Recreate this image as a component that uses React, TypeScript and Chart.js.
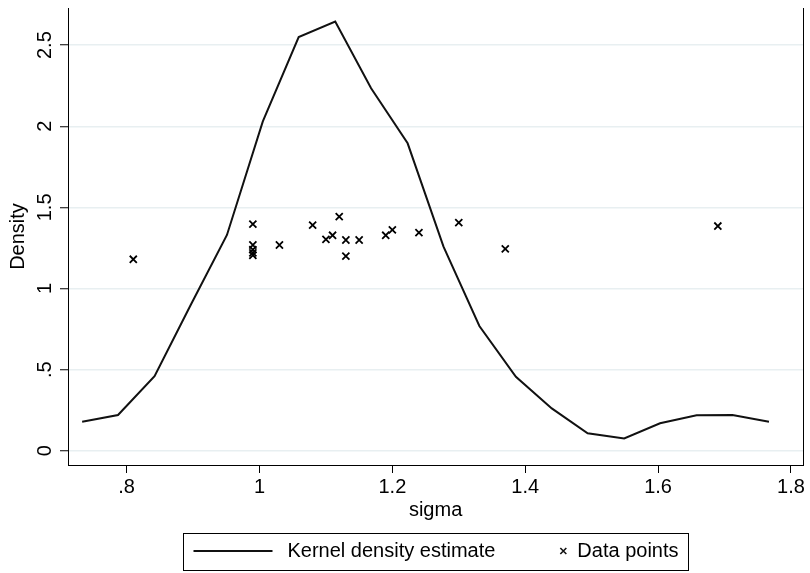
import React, { useEffect, useRef } from 'react';
import { Chart, registerables } from 'chart.js';

Chart.register(...registerables);

// Kernel density estimate (evaluation grid and density)
const kdeX = [0.733, 0.787, 0.842, 0.896, 0.951, 1.005, 1.059, 1.114, 1.168, 1.223, 1.277, 1.331, 1.386, 1.44, 1.494, 1.549, 1.603, 1.658, 1.712, 1.767];
const kdeY = [0.179, 0.22, 0.46, 0.895, 1.33, 2.03, 2.55, 2.645, 2.234, 1.895, 1.258, 0.769, 0.456, 0.261, 0.107, 0.076, 0.169, 0.218, 0.22, 0.179];

// Data points (sigma, jittered height)
const pointX = [0.81, 0.99, 0.99, 0.99, 0.99, 0.99, 1.03, 1.08, 1.1, 1.11, 1.12, 1.13, 1.13, 1.15, 1.19, 1.2, 1.24, 1.3, 1.37, 1.69];
const pointY = [1.18, 1.397, 1.268, 1.24, 1.22, 1.205, 1.268, 1.391, 1.303, 1.328, 1.443, 1.299, 1.2, 1.299, 1.328, 1.361, 1.344, 1.406, 1.244, 1.385];

const xTicks = [0.8, 1, 1.2, 1.4, 1.6, 1.8];
const yTicks = [0, 0.5, 1, 1.5, 2, 2.5];
const xRange = [0.7117, 1.8185];
const yRange = [-0.088, 2.729];

const xTitle = 'sigma';
const yTitle = 'Density';
const seriesNames = ['Kernel density estimate', 'Data points'];

const FONT_FAMILY = '"Liberation Sans", Arial, Helvetica, sans-serif';
const FONT_SIZE = 20;

const fmt = (v: number) => {
  const s = String(Math.round(v * 100) / 100);
  return s.startsWith('0.') ? s.slice(1) : s;
};

const boxLegend = {
  id: 'boxLegend',
  afterDraw(chart: any) {
    const ctx = chart.ctx as CanvasRenderingContext2D;
    const area = chart.chartArea;
    ctx.save();
    ctx.font = `${FONT_SIZE}px ${FONT_FAMILY}`;
    const boxW = 505;
    const cx = (area.left + area.right) / 2;
    const left = Math.round(cx - boxW / 2) + 0.5;
    const right = left + boxW;
    const top = 533.5;
    const midY = 551;
    ctx.strokeStyle = '#000';
    ctx.lineWidth = 1;
    ctx.strokeRect(left, top, boxW, 37);
    // line sample
    const lineStart = left + 10;
    const lineEnd = lineStart + 79;
    ctx.lineWidth = 2;
    ctx.strokeStyle = '#111';
    ctx.beginPath();
    ctx.moveTo(lineStart, midY);
    ctx.lineTo(lineEnd, midY);
    ctx.stroke();
    ctx.fillStyle = '#000';
    ctx.textBaseline = 'middle';
    ctx.textAlign = 'left';
    ctx.fillText(seriesNames[0], lineEnd + 15, midY);
    // second item: right aligned
    const w2 = ctx.measureText(seriesNames[1]).width;
    const t2x = right - 10 - w2;
    ctx.fillText(seriesNames[1], t2x, midY);
    const mx = t2x - 14;
    const r = 3;
    ctx.lineWidth = 1.6;
    ctx.beginPath();
    ctx.moveTo(mx - r, midY - r);
    ctx.lineTo(mx + r, midY + r);
    ctx.moveTo(mx + r, midY - r);
    ctx.lineTo(mx - r, midY + r);
    ctx.stroke();
    ctx.restore();
  },
};

export default function App() {
  const ref = useRef<HTMLCanvasElement | null>(null);

  useEffect(() => {
    if (!ref.current) return;
    const font = { family: FONT_FAMILY, size: FONT_SIZE };
    const chart = new Chart(ref.current, {
      type: 'scatter',
      data: {
        datasets: [
          {
            type: 'line',
            label: seriesNames[0],
            data: kdeX.map((x, i) => ({ x, y: kdeY[i] })),
            borderColor: '#111',
            borderWidth: 2,
            pointRadius: 0,
            tension: 0,
            fill: false,
          },
          {
            type: 'scatter',
            label: seriesNames[1],
            data: pointX.map((x, i) => ({ x, y: pointY[i] })),
            pointStyle: 'crossRot',
            pointRadius: 5,
            borderColor: '#000',
            borderWidth: 1.8,
            backgroundColor: '#000',
          },
        ],
      },
      options: {
        responsive: false,
        animation: false,
        events: [],
        layout: { padding: { left: 0, right: 5, top: 8, bottom: 45 } },
        plugins: {
          legend: { display: false },
          tooltip: { enabled: false },
        },
        scales: {
          x: {
            type: 'linear',
            position: 'bottom',
            min: xRange[0],
            max: xRange[1],
            afterBuildTicks: (s: any) => {
              s.ticks = xTicks.map((v) => ({ value: v }));
            },
            afterFit: (s: any) => {
              s.height = 63;
              s.paddingLeft = 0;
              s.paddingRight = 0;
            },
            ticks: {
              callback: (v: any) => fmt(Number(v)),
              font,
              color: '#000',
              padding: 2,
              maxRotation: 0,
              autoSkip: false,
            },
            grid: {
              drawOnChartArea: false,
              drawTicks: true,
              tickLength: 8,
              tickColor: '#000',
              tickWidth: 1,
            },
            border: { display: true, color: '#000', width: 1 },
            title: {
              display: true,
              text: xTitle,
              font,
              color: '#000',
              padding: { top: 0, bottom: 6 },
            },
          },
          y: {
            type: 'linear',
            position: 'left',
            min: yRange[0],
            max: yRange[1],
            afterBuildTicks: (s: any) => {
              s.ticks = yTicks.map((v) => ({ value: v }));
            },
            afterFit: (s: any) => {
              s.width = 68;
              s.paddingTop = 0;
              s.paddingBottom = 0;
            },
            ticks: {
              callback: (v: any) => fmt(Number(v)),
              font,
              color: '#000',
              padding: 1,
              minRotation: 90,
              maxRotation: 90,
              crossAlign: 'center',
              autoSkip: false,
            },
            grid: {
              drawOnChartArea: true,
              color: '#e8eff1',
              lineWidth: 1.5,
              drawTicks: true,
              tickLength: 8,
              tickColor: '#000',
              tickWidth: 1,
            },
            border: { display: true, color: '#000', width: 1 },
            title: {
              display: true,
              text: yTitle,
              font,
              color: '#000',
              padding: { top: 6, bottom: 0 },
            },
          },
          yRight: {
            type: 'linear',
            position: 'right',
            min: yRange[0],
            max: yRange[1],
            ticks: { display: false },
            grid: { drawOnChartArea: false, drawTicks: false },
            border: { display: true, color: '#000', width: 1 },
            afterFit: (s: any) => {
              s.width = 0;
              s.paddingTop = 0;
              s.paddingBottom = 0;
            },
          },
        },
      },
      plugins: [boxLegend],
    });
    return () => chart.destroy();
  }, []);

  return (
    <div style={{ position: 'absolute', left: 0, top: 0, width: 810, height: 573, background: '#fff' }}>
      <canvas ref={ref} width={810} height={573} />
    </div>
  );
}
